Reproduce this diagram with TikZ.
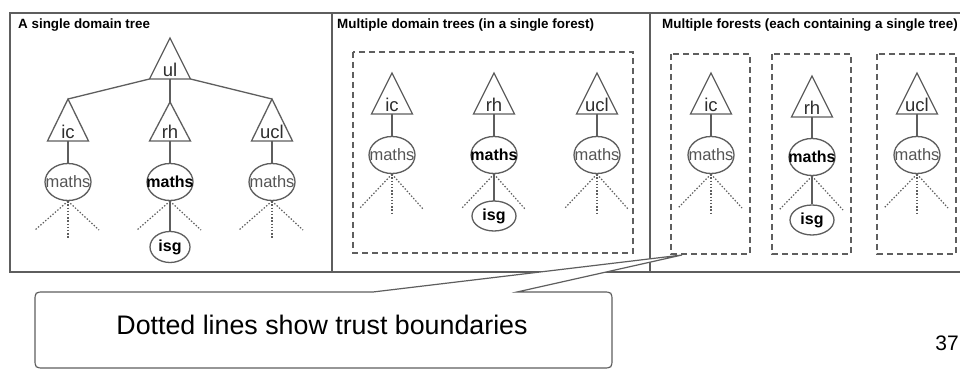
\documentclass[tikz,border=0pt]{standalone}
\usepackage{fontspec}
\setmainfont{Liberation Sans}
\usetikzlibrary{shapes.geometric}
\definecolor{lc}{HTML}{5E5E5E}
\definecolor{tc}{HTML}{2E2E2E}
\definecolor{gc}{HTML}{555555}
\tikzset{
  frame/.style={draw=lc, line width=1.2pt},
  triline/.style={draw=lc, line width=1.3pt, line join=miter},
  conn/.style={draw=lc, line width=1.3pt},
  dots/.style={draw=lc, line width=1.2pt, dash pattern=on 1.4pt off 1.8pt},
  dbox/.style={draw=lc, line width=1.2pt, dash pattern=on 6pt off 4pt},
  trilab/.style={inner sep=0pt, text=tc, font=\fontsize{18.5}{20}\selectfont},
  ellshape/.style={draw=lc, line width=1.3pt, ellipse, inner sep=0pt, fill=white},
  mlab/.style={inner sep=0pt, text=gc, font=\fontsize{16.5}{18}\selectfont},
  mbold/.style={inner sep=0pt, text=black, font=\fontsize{16}{18}\selectfont\bfseries},
  title/.style={inner sep=0pt, anchor=base west, text=black, font=\fontsize{13.4}{15}\selectfont\bfseries},
  callout/.style={draw=lc, line width=1.2pt, fill=white},
}
\newcommand\Tri[5]{%
  \coordinate (#1-a) at (#2,#3);
  \coordinate (#1-l) at (#2-20.5,#4);
  \coordinate (#1-r) at (#2+20.5,#4);
  \coordinate (#1-b) at (#2,#4);
  \draw[triline] (#1-a) -- (#1-l) -- (#1-r) -- cycle;
  \node[trilab, anchor=base] (#1) at (#2,#4-2.5) {#5};
}
\newcommand\Ell[7]{%
  \node[ellshape, minimum width=#4, minimum height=#5] (#1) at (#2,#3) {};
  \node[#7] (#1-t) at (#1) {#6};
}
\newcommand\Fan[4]{%
  \coordinate (#1-d1) at (#2-33,#3);
  \coordinate (#1-d2) at (#2,#4);
  \coordinate (#1-d3) at (#2+31,#3);
  \draw[dots] (#1.south) -- (#1-d1);
  \draw[dots] (#1.south) -- (#1-d2);
  \draw[dots] (#1.south) -- (#1-d3);
}
\begin{document}
\begin{tikzpicture}[x=1pt,y=-1pt]
\useasboundingbox (0,0) rectangle (960,387);
\fill[white] (0,0) rectangle (960,387);
% frame
\coordinate (f-tl) at (10,13);
\coordinate (f-br) at (965,272);
\draw[frame] (f-tl) rectangle (f-br);
\coordinate (d1t) at (332,13); \coordinate (d1b) at (332,272);
\coordinate (d2t) at (650,13); \coordinate (d2b) at (650,272);
\draw[frame] (d1t) -- (d1b);
\draw[frame] (d2t) -- (d2b);
\node[title] (t1) at (18,29) {A single domain tree};
\node[title] (t2) at (337,29) {Multiple domain trees (in a single forest)};
\node[title] (t3) at (662,29) {Multiple forests (each containing a single tree)};

% ---------- panel 1
\Tri{ul}{170}{38}{79}{ul}
\Tri{ic1}{68}{99}{141}{ic}
\Tri{rh1}{170}{102}{141}{rh}
\Tri{ucl1}{272}{99}{141}{ucl}
\draw[conn] (ul-l) -- (ic1-a);
\draw[conn] (ul-b) -- (rh1-a);
\draw[conn] (ul-r) -- (ucl1-a);
\Ell{m11}{68}{182}{46}{37}{maths}{mlab}
\Ell{m12}{170}{182}{46}{37}{maths}{mbold}
\Ell{m13}{272}{182}{46}{37}{maths}{mlab}
\draw[conn] (ic1-b) -- (m11);
\draw[conn] (rh1-b) -- (m12);
\draw[conn] (ucl1-b) -- (m13);
\Fan{m11}{68}{230}{238}
\Fan{m12}{170}{230}{238}
\Fan{m13}{272}{230}{238}
\Ell{isg1}{170}{247}{40}{31}{isg}{mbold}
\draw[conn] (m12) -- (isg1);

% ---------- panel 2
\coordinate (b2a) at (353,52); \coordinate (b2b) at (633,253);
\draw[dbox] (b2a) rectangle (b2b);
\Tri{ic2}{392}{73}{114}{ic}
\Tri{rh2}{494}{73}{114}{rh}
\Tri{ucl2}{597}{73}{114}{ucl}
\Ell{m21}{392}{155}{46}{37}{maths}{mlab}
\Ell{m22}{494}{155}{46}{37}{maths}{mbold}
\Ell{m23}{597}{155}{46}{37}{maths}{mlab}
\draw[conn] (ic2-b) -- (m21);
\draw[conn] (rh2-b) -- (m22);
\draw[conn] (ucl2-b) -- (m23);
\Fan{m21}{392}{209}{213}
\Fan{m22}{494}{209}{213}
\Fan{m23}{597}{209}{213}
\Ell{isg2}{494}{216}{44}{30}{isg}{mbold}
\draw[conn] (m22) -- (isg2);

% ---------- panel 3
\coordinate (b31a) at (671,54); \coordinate (b31b) at (750,254);
\coordinate (b32a) at (772,54); \coordinate (b32b) at (851,254);
\coordinate (b33a) at (877,54); \coordinate (b33b) at (956,254);
\draw[dbox] (b31a) rectangle (b31b);
\draw[dbox] (b32a) rectangle (b32b);
\draw[dbox] (b33a) rectangle (b33b);
\Tri{ic3}{711}{73}{114}{ic}
\Tri{rh3}{812}{76}{117}{rh}
\Tri{ucl3}{917}{73}{114}{ucl}
\Ell{m31}{711}{155}{46}{37}{maths}{mlab}
\Ell{m32}{812}{157}{46}{37}{maths}{mbold}
\Ell{m33}{917}{155}{46}{37}{maths}{mlab}
\draw[conn] (ic3-b) -- (m31);
\draw[conn] (rh3-b) -- (m32);
\draw[conn] (ucl3-b) -- (m33);
\Fan{m31}{711}{208}{213}
\Fan{m32}{812}{210}{215}
\Fan{m33}{917}{208}{213}
\Ell{isg3}{812}{220}{44}{30}{isg}{mbold}
\draw[conn] (m32) -- (isg3);

% ---------- callout
\coordinate (tip) at (682,255);
\draw[callout] (373,292) -- (tip) -- (517,292) -- (602,292)
  .. controls (612,292) .. (612,302) -- (612,358)
  .. controls (612,368) .. (602,368) -- (45,368)
  .. controls (35,368) .. (35,358) -- (35,302)
  .. controls (35,292) .. (45,292) -- cycle;
\node[inner sep=0pt, text=black, font=\fontsize{26.8}{29}\selectfont] (note) at (322,325) {Dotted lines show trust boundaries};
\node[inner sep=0pt, anchor=east, text=black, font=\fontsize{21}{24}\selectfont] (pg) at (959,343) {37};
\end{tikzpicture}
\end{document}
